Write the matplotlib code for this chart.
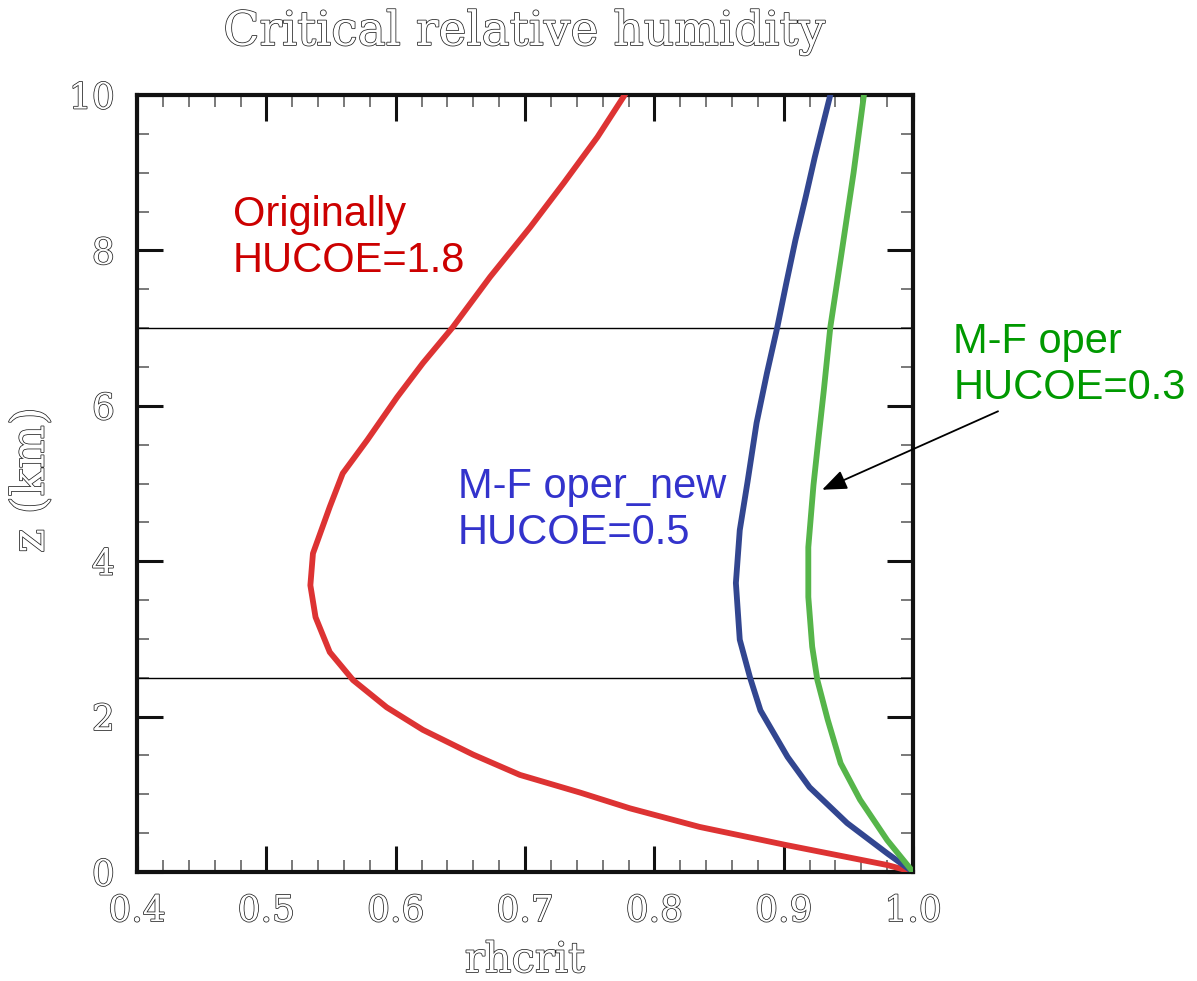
import matplotlib
matplotlib.use("Agg")
import matplotlib.pyplot as plt
import matplotlib.patheffects as pe
from matplotlib.ticker import MultipleLocator

# --- data (rhcrit vs height in km) ---
z_red = [0.0, 0.09, 0.35, 0.58, 0.82, 1.02, 1.25, 1.51, 1.83, 2.12, 2.47, 2.83,
         3.28, 3.69, 4.10, 4.70, 5.13, 5.56, 6.11, 6.55, 7.01, 7.66, 8.30, 8.87,
         9.46, 10.0]
rh_red = [1.0, 0.980, 0.901, 0.835, 0.781, 0.743, 0.696, 0.660, 0.621, 0.593,
          0.567, 0.549, 0.538, 0.534, 0.536, 0.549, 0.559, 0.578, 0.601, 0.621,
          0.644, 0.673, 0.704, 0.730, 0.756, 0.777]

z_blue = [0.0, 0.24, 0.63, 1.09, 1.48, 2.08, 2.50, 2.99, 3.72, 4.40, 5.02, 5.78,
          6.42, 7.01, 7.58, 8.13, 8.69, 9.20, 10.0]
rh_blue = [1.0, 0.980, 0.949, 0.920, 0.903, 0.882, 0.874, 0.866, 0.863, 0.866,
           0.872, 0.879, 0.887, 0.895, 0.902, 0.909, 0.917, 0.924, 0.936]

z_green = [0.0, 0.41, 0.93, 1.40, 1.96, 2.47, 2.90, 3.54, 4.18, 4.98, 5.60, 6.20,
           7.01, 8.0, 9.0, 10.0]
rh_green = [1.0, 0.980, 0.959, 0.944, 0.934, 0.926, 0.922, 0.919, 0.919, 0.923,
            0.927, 0.931, 0.936, 0.945, 0.954, 0.962]

z_levels = [2.5, 7.0]
x_ticks = [0.4, 0.5, 0.6, 0.7, 0.8, 0.9, 1.0]
x_ticklabels = ["0.4", "0.5", "0.6", "0.7", "0.8", "0.9", "1.0"]
y_ticks = [0, 2, 4, 6, 8, 10]
y_ticklabels = ["0", "2", "4", "6", "8", "10"]

# hollow "plotter" look for the axis texts
hollow = [pe.withStroke(linewidth=1.1, foreground="#222222")]
serif = "DejaVu Serif"

fig = plt.figure(figsize=(11.97, 9.81), dpi=100)
ax = fig.add_axes([0.1145, 0.1111, 0.6483, 0.7920])

ax.plot(rh_red, z_red, color="#DD3333", lw=4.2, zorder=3)
ax.plot(rh_blue, z_blue, color="#324690", lw=4.2, zorder=3)
ax.plot(rh_green, z_green, color="#56B54A", lw=4.2, zorder=3)
for zl in z_levels:
    ax.axhline(zl, color="black", lw=1.0, zorder=2)

ax.set_xlim(0.4, 1.0)
ax.set_ylim(0, 10)
ax.set_xticks(x_ticks)
ax.set_xticklabels(x_ticklabels)
ax.set_yticks(y_ticks)
ax.set_yticklabels(y_ticklabels)
ax.xaxis.set_minor_locator(MultipleLocator(0.02))
ax.yaxis.set_minor_locator(MultipleLocator(0.5))
ax.tick_params(which="major", direction="in", length=19, width=2.2, color="#111111",
               top=True, right=True, pad=16, labelsize=26)
ax.tick_params(which="minor", direction="in", length=8.5, width=1.1, color="#555555",
               top=True, right=True)
for sp in ax.spines.values():
    sp.set_linewidth(3)
    sp.set_color("#111111")

for lab in ax.get_xticklabels() + ax.get_yticklabels():
    lab.set_family(serif)
    lab.set_color("white")
    lab.set_path_effects(hollow)

# annotations
ax.text(0.474, 8.71, "Originally\nHUCOE=1.8", color="#CC0000", fontsize=30,
        family="Liberation Sans", ha="left", va="top", linespacing=1.2)
ax.text(0.648, 5.21, "M-F oper_new\nHUCOE=0.5", color="#3333CC", fontsize=30,
        family="Liberation Sans", ha="left", va="top", linespacing=1.2)
ax.text(1.031, 7.08, "M-F oper\nHUCOE=0.3", color="#009900", fontsize=30,
        family="Liberation Sans", ha="left", va="top", linespacing=1.2,
        clip_on=False)
ax.annotate("", xy=(0.9297, 4.92), xytext=(1.0657, 5.93),
            arrowprops=dict(arrowstyle="-|>,head_length=1.0,head_width=0.4",
                            mutation_scale=15, color="black", lw=1.3,
                            shrinkA=0, shrinkB=0),
            annotation_clip=False)

fig.text(525 / 1197, 1 - 45 / 981, "Critical relative humidity", ha="center",
         va="baseline", fontsize=34, family=serif, color="white", path_effects=hollow)
fig.text(525 / 1197, 1 - 972 / 981, "rhcrit", ha="center", va="baseline",
         fontsize=30, family=serif, color="white", path_effects=hollow)
fig.text(31 / 1197, 1 - 480 / 981, "z (km)", ha="center", va="center", rotation=90,
         fontsize=33, family=serif, color="white", path_effects=hollow)

fig.savefig("out.png", dpi=100)
